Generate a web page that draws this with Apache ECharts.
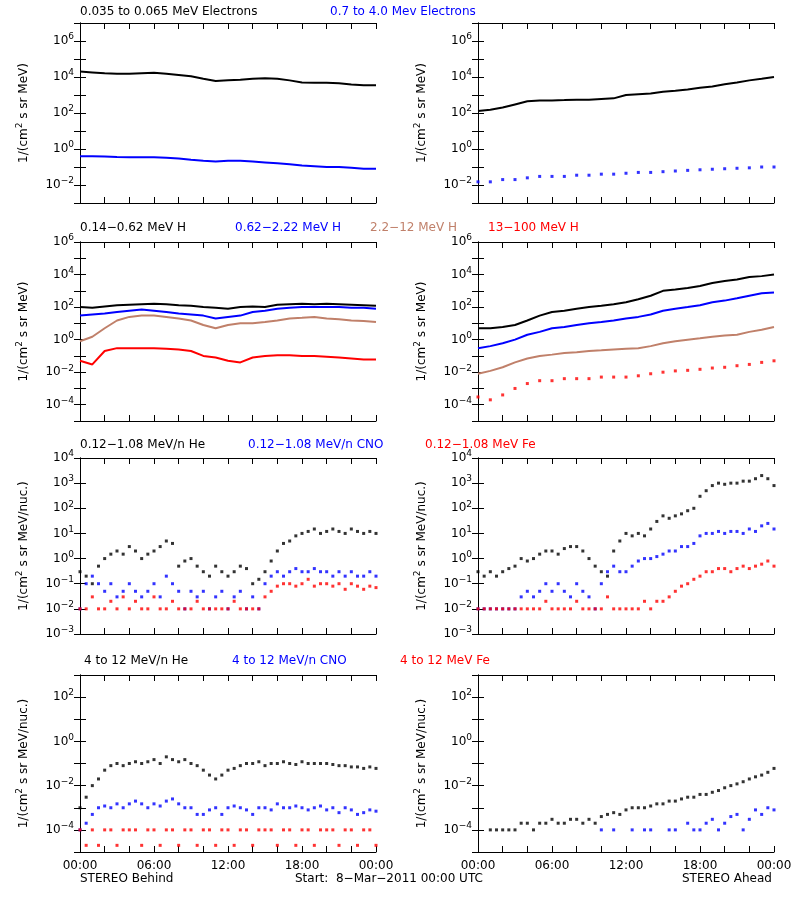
<!DOCTYPE html>
<html><head><meta charset="utf-8">
<script src="https://cdn.jsdelivr.net/npm/echarts@6/dist/echarts.min.js"></script>
<style>html,body{margin:0;background:#fff}#c{width:800px;height:900px}</style></head>
<body><div id="c"></div>
<script>
// hourly (0..24)
const eLoBehind=[2e4,1.8e4,1.6e4,1.5e4,1.5e4,1.6e4,1.7e4,1.5e4,1.3e4,1.1e4,8e3,6e3,6.5e3,7e3,8e3,8.5e3,8e3,6.5e3,5e3,4.8e3,4.8e3,4.5e3,3.8e3,3.5e3,3.5e3];
const eHiBehind=[0.4,0.4,0.38,0.36,0.35,0.35,0.35,0.33,0.3,0.25,0.22,0.2,0.22,0.22,0.2,0.18,0.16,0.14,0.12,0.11,0.1,0.1,0.09,0.08,0.08];
const eLoAhead=[130,150,200,300,450,500,500,520,550,550,600,650,1000,1100,1200,1500,1700,2000,2500,3000,4000,5000,6500,8000,1e4];
const eHiAhead=[0.015,0.015,0.02,0.02,0.025,0.03,0.03,0.03,0.035,0.035,0.04,0.04,0.045,0.05,0.05,0.055,0.06,0.065,0.07,0.075,0.08,0.085,0.09,0.1,0.1];
const h1Behind=[100,90,110,130,140,150,160,150,130,120,100,90,80,100,110,100,140,150,160,150,160,150,140,130,120];
const h2Behind=[30,35,40,50,60,70,60,50,40,35,30,20,25,30,50,60,80,90,100,100,100,100,90,90,80];
const h3Behind=[0.8,1.5,5,15,25,30,30,25,20,15,8,5,8,10,10,12,15,20,22,25,20,18,15,14,12];
const h4Behind=[0.05,0.03,0.2,0.3,0.3,0.3,0.3,0.28,0.25,0.2,0.1,0.08,0.05,0.04,0.08,0.1,0.11,0.11,0.1,0.1,0.09,0.08,0.07,0.06,0.06];
const h1Ahead=[5,5,6,8,15,30,50,60,80,100,120,150,200,300,500,1000,1200,1500,2000,3000,4000,5000,7000,8000,1e4];
const h2Ahead=[0.3,0.4,0.6,1,2,3,5,6,8,10,12,15,20,25,35,60,80,100,130,200,250,350,500,700,800];
const h3Ahead=[0.008,0.012,0.02,0.04,0.07,0.1,0.12,0.15,0.17,0.2,0.22,0.25,0.28,0.3,0.4,0.6,0.8,1,1.2,1.5,1.8,2,3,4,6];
const h4Ahead=[3e-4,2e-4,4e-4,1e-3,2e-3,3e-3,3e-3,4e-3,4e-3,4e-3,5e-3,5e-3,5e-3,6e-3,8e-3,1e-2,1.2e-2,1.3e-2,1.5e-2,1.8e-2,2e-2,2.5e-2,3e-2,4e-2,5e-2];
// half-hourly (0..24 step 0.5)
const heLoBehind=[0.3,0.2,0.1,0.5,1,1.5,2,1.5,3,2,1,1.5,2,3,5,4,0.5,0.8,1,0.5,0.3,0.2,0.5,0.3,0.2,0.3,0.5,0.4,0.1,0.15,0.3,0.8,2,4,5,8,10,12,15,10,12,15,12,10,15,12,10,12,10];
const cnoLoBehind=[0.01,0.1,0.2,0.1,0.05,0.1,0.03,0.05,0.1,0.05,0.03,0.05,0.1,0.03,0.2,0.1,0.05,0.01,0.05,0.03,0.05,0.01,0.03,0.05,0.01,0.03,0.05,0.01,0.03,0.01,0.1,0.2,0.3,0.2,0.3,0.4,0.3,0.3,0.4,0.3,0.3,0.2,0.3,0.2,0.3,0.2,0.2,0.3,0.2];
const feLoBehind=[0.01,0.01,0.03,0.01,0.01,0.02,0.01,0.03,0.01,0.02,0.01,0.01,0.03,0.01,0.01,0.02,0.01,0.01,0.01,0.02,0.01,0.01,0.01,0.01,0.01,0.02,0.01,0.01,0.01,0.01,0.03,0.05,0.08,0.1,0.1,0.08,0.1,0.15,0.08,0.1,0.1,0.08,0.1,0.06,0.1,0.08,0.06,0.08,0.07];
const heLoAhead=[0.3,0.2,0.3,0.2,0.3,0.4,0.5,1,0.8,1,1.5,2,2,1.5,2.5,3,3,2,1,0.5,0.3,0.2,2,5,10,8,10,8,15,30,50,40,50,60,80,100,300,500,800,1000,900,1000,1000,1200,1200,1500,2000,1500,800];
const cnoLoAhead=[0.01,0.01,0.01,0.01,0.01,0.01,0.01,0.03,0.05,0.03,0.05,0.1,0.05,0.1,0.05,0.03,0.1,0.05,0.03,0.01,0.1,0.3,0.5,0.3,0.3,0.5,0.8,1,1,1.2,1.5,2,2,3,3,4,8,10,10,12,10,12,12,10,15,12,20,25,15];
const feLoAhead=[0.01,0.01,0.01,0.01,0.01,0.01,0.01,0.01,0.01,0.01,0.01,0.02,0.01,0.01,0.01,0.01,0.02,0.01,0.01,0.01,0.01,0.03,0.01,0.01,0.01,0.01,0.01,0.02,0.01,0.02,0.02,0.03,0.05,0.08,0.1,0.15,0.2,0.3,0.3,0.4,0.4,0.3,0.4,0.5,0.4,0.5,0.6,0.8,0.5];
const heHiBehind=[1e-3,3e-3,1e-2,2e-2,5e-2,8e-2,0.1,0.08,0.1,0.12,0.1,0.12,0.15,0.1,0.2,0.15,0.12,0.15,0.1,0.08,0.05,0.03,0.02,0.03,0.05,0.06,0.08,0.1,0.1,0.12,0.08,0.1,0.1,0.12,0.1,0.09,0.12,0.1,0.1,0.1,0.1,0.09,0.08,0.08,0.07,0.07,0.06,0.07,0.06];
const cnoHiBehind=[1e-4,2e-4,5e-4,1e-3,1.2e-3,1e-3,1.5e-3,1e-3,1.5e-3,2e-3,1.5e-3,1e-3,1.5e-3,1.2e-3,2e-3,2.5e-3,1.5e-3,1e-3,1e-3,5e-4,5e-4,8e-4,1e-3,5e-4,1e-3,1.2e-3,1e-3,8e-4,5e-4,1e-3,1e-3,8e-4,1.5e-3,1e-3,1e-3,1.2e-3,1e-3,8e-4,1e-3,1.2e-3,8e-4,1e-3,6e-4,1e-3,8e-4,5e-4,6e-4,8e-4,7e-4];
const feHiBehind=[1e-4,2e-5,1e-4,2e-5,1e-4,1e-4,2e-5,1e-4,1e-4,1e-4,2e-5,1e-4,1e-4,2e-5,1e-4,1e-4,2e-5,1e-4,1e-4,2e-5,1e-4,1e-4,2e-5,1e-4,1e-4,2e-5,1e-4,1e-4,2e-5,1e-4,1e-4,1e-4,2e-5,1e-4,1e-4,2e-5,1e-4,1e-4,2e-5,1e-4,1e-4,1e-4,2e-5,1e-4,1e-4,2e-5,1e-4,1e-4,2e-5];
const heHiAhead=[null,null,1e-4,1e-4,1e-4,1e-4,1e-4,2e-4,2e-4,1e-4,2e-4,2e-4,3e-4,2e-4,2e-4,3e-4,3e-4,2e-4,3e-4,2e-4,4e-4,5e-4,6e-4,5e-4,8e-4,1e-3,1e-3,1e-3,1.2e-3,1.5e-3,1.5e-3,2e-3,2e-3,2.5e-3,3e-3,3e-3,4e-3,4e-3,5e-3,6e-3,8e-3,1e-2,1.2e-2,1.5e-2,2e-2,2.5e-2,3e-2,4e-2,6e-2];
const cnoHiAhead=[null,null,null,null,null,null,null,null,null,null,null,null,null,null,null,null,null,null,null,null,1e-4,null,1e-4,null,null,1e-4,null,1e-4,1e-4,null,null,1e-4,1e-4,null,2e-4,1e-4,1e-4,2e-4,3e-4,1e-4,2e-4,4e-4,5e-4,1e-4,3e-4,8e-4,5e-4,1e-3,8e-4];
const xTickLabels=['00:00','06:00','12:00','18:00','00:00'];

const BLUE='#0000ff',RED='#ff0000',BROWN='#c0806a',BLK='#000';
const font='DejaVu Sans';
const pts=(arr,step)=>arr.map((v,i)=>[i*step,v]);
const L=[80,478],W=296;
const rows=[
 {top:23,h:180,min:1e-3,max:1e7,skipOdd:true,unit:'MeV'},
 {top:242,h:179,min:1e-5,max:1e6,skipOdd:true,unit:'MeV'},
 {top:458,h:176,min:1e-3,max:1e4,skipOdd:false,unit:'MeV/nuc.'},
 {top:675,h:177,min:1e-5,max:1e3,skipOdd:true,unit:'MeV/nuc.'}];
const panels=[
 [[eLoBehind,1,BLK,'line'],[eHiBehind,1,BLUE,'line']],
 [[eLoAhead,1,BLK,'line'],[eHiAhead,1,BLUE,'scatter']],
 [[h1Behind,1,BLK,'line'],[h2Behind,1,BLUE,'line'],[h3Behind,1,BROWN,'line'],[h4Behind,1,RED,'line']],
 [[h1Ahead,1,BLK,'line'],[h2Ahead,1,BLUE,'line'],[h3Ahead,1,BROWN,'line'],[h4Ahead,1,RED,'scatter']],
 [[heLoBehind,0.5,BLK,'scatter'],[cnoLoBehind,0.5,BLUE,'scatter'],[feLoBehind,0.5,RED,'scatter']],
 [[heLoAhead,0.5,BLK,'scatter'],[cnoLoAhead,0.5,BLUE,'scatter'],[feLoAhead,0.5,RED,'scatter']],
 [[heHiBehind,0.5,BLK,'scatter'],[cnoHiBehind,0.5,BLUE,'scatter'],[feHiBehind,0.5,RED,'scatter']],
 [[heHiAhead,0.5,BLK,'scatter'],[cnoHiAhead,0.5,BLUE,'scatter']]];
const grid=[],xAxis=[],yAxis=[],series=[];
const lineStyle={color:BLK,width:1};
const rich={s:{fontSize:9,verticalAlign:'top',padding:[0,0,8,0],fontFamily:font,color:BLK}};
for(let r=0;r<4;r++)for(let c=0;c<2;c++){
 const g=r*2+c,R=rows[r];
 grid.push({left:L[c],top:R.top,width:W,height:R.h});
 const bottom=r===3;
 xAxis.push({gridIndex:g,type:'value',min:0,max:24,interval:2,position:'bottom',
  axisLine:{lineStyle},axisTick:{inside:true,length:6,lineStyle},splitLine:{show:false},
  axisLabel:{show:bottom,color:BLK,fontFamily:font,fontSize:12,margin:8,
   formatter:v=>v%6===0?xTickLabels[v/6]:''}});
 xAxis.push({gridIndex:g,type:'value',min:0,max:24,interval:2,position:'top',
  axisLine:{lineStyle},axisTick:{inside:true,length:6,lineStyle},splitLine:{show:false},axisLabel:{show:false}});
 yAxis.push({gridIndex:g,type:'log',logBase:10,min:R.min,max:R.max,interval:1,position:'left',
  axisLine:{lineStyle},axisTick:{inside:true,length:6,lineStyle},splitLine:{show:false},
  minorTick:{show:false},
  name:'1/(cm{s|2} s sr '+R.unit+')',nameLocation:'middle',nameRotate:90,nameGap:48,
  nameTextStyle:{color:BLK,fontFamily:font,fontSize:12,rich},
  axisLabel:{color:BLK,fontFamily:font,fontSize:12,margin:6,showMinLabel:true,showMaxLabel:true,
   formatter:v=>{const e=Math.round(Math.log10(v));if(R.skipOdd&&e%2)return '';if(R.skipOdd&&v<=R.min*1.01)return '';return '10{s|'+(e<0?'−'+(-e):e)+'}';},
   rich}});
 yAxis.push({gridIndex:g,type:'log',logBase:10,min:R.min,max:R.max,interval:1,position:'right',
  axisLine:{lineStyle},axisTick:{inside:true,length:6,lineStyle},splitLine:{show:false},axisLabel:{show:false}});
 for(const [arr,step,col,type] of panels[g]){
  const s={type,xAxisIndex:g*2,yAxisIndex:g*2,data:pts(arr,step).filter(p=>p[1]!=null),silent:true,animation:false};
  if(type==='line'){s.symbol='none';s.lineStyle={color:col,width:2};s.itemStyle={color:col};}
  else{s.symbol='rect';s.symbolSize=3;s.itemStyle={color:col};}
  series.push(s);
 }
}
const T=(x,y,text,color)=>({type:'text',left:x,top:y,style:{text,fill:color,font:'12px "DejaVu Sans"'}});
const graphic=[
 T(80,6,'0.035 to 0.065 MeV Electrons',BLK),T(330,6,'0.7 to 4.0 Mev Electrons',BLUE),
 T(80,222,'0.14−0.62 MeV H',BLK),T(235,222,'0.62−2.22 MeV H',BLUE),T(370,222,'2.2−12 MeV H',BROWN),T(488,222,'13−100 MeV H',RED),
 T(80,439,'0.12−1.08 MeV/n He',BLK),T(248,439,'0.12−1.08 MeV/n CNO',BLUE),T(425,439,'0.12−1.08 MeV Fe',RED),
 T(84,655,'4 to 12 MeV/n He',BLK),T(232,655,'4 to 12 MeV/n CNO',BLUE),T(400,655,'4 to 12 MeV Fe',RED),
 T(80,873,'STEREO Behind',BLK),T(295,873,'Start:  8−Mar−2011 00:00 UTC',BLK),T(682,873,'STEREO Ahead',BLK)];
const ch=echarts.init(document.getElementById('c'));
ch.setOption({backgroundColor:'#fff',animation:false,grid,xAxis,yAxis,series,graphic});
</script></body></html>
